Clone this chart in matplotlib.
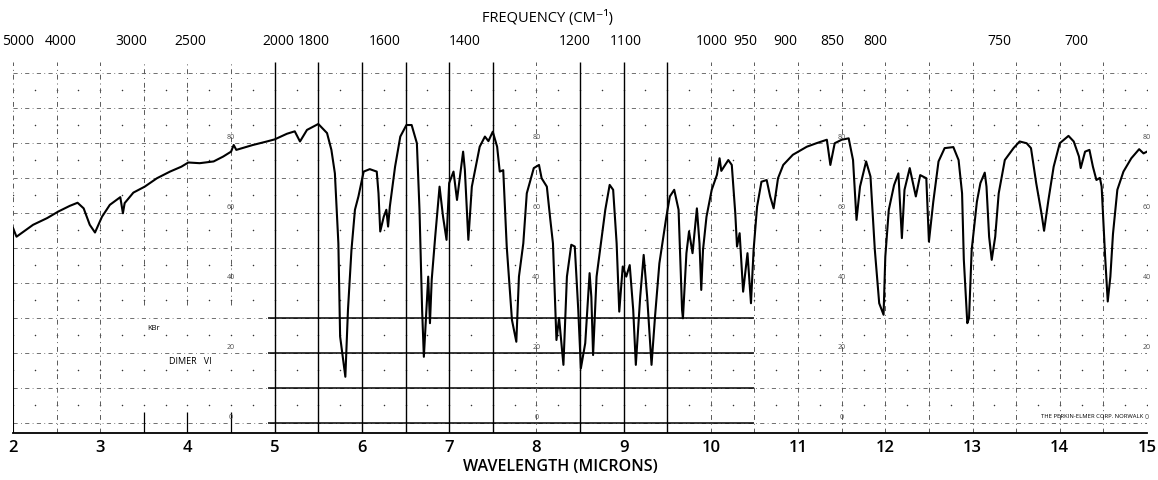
import matplotlib
matplotlib.use("Agg")
import matplotlib.pyplot as plt
import numpy as np

# traced spectrum: wavelength (microns) vs % transmittance
wavelength = [2.00, 2.04, 2.23, 2.39, 2.52, 2.65, 2.74, 2.81, 2.88, 2.94, 3.02, 3.11, 3.23, 3.26, 3.28,
              3.38, 3.51, 3.65, 3.80, 3.93, 4.01, 4.14, 4.30, 4.41, 4.50, 4.53, 4.56, 4.75, 4.91, 5.00,
              5.14, 5.23, 5.29, 5.37, 5.50, 5.60, 5.65, 5.69, 5.73, 5.75, 5.81, 5.84, 5.88, 5.92, 5.96,
              6.02, 6.09, 6.17, 6.19, 6.21, 6.25, 6.28, 6.30, 6.32, 6.38, 6.44, 6.51, 6.57, 6.63, 6.66,
              6.69, 6.71, 6.74, 6.76, 6.78, 6.80, 6.84, 6.89, 6.93, 6.97, 7.00, 7.05, 7.09, 7.16, 7.18,
              7.22, 7.26, 7.35, 7.41, 7.45, 7.50, 7.55, 7.58, 7.62, 7.66, 7.72, 7.77, 7.80, 7.85, 7.89,
              7.97, 8.03, 8.06, 8.12, 8.16, 8.19, 8.23, 8.26, 8.31, 8.35, 8.40, 8.44, 8.48, 8.51, 8.56,
              8.61, 8.63, 8.65, 8.69, 8.73, 8.79, 8.84, 8.88, 8.92, 8.95, 8.99, 9.03, 9.07, 9.11, 9.14,
              9.19, 9.23, 9.27, 9.32, 9.36, 9.41, 9.49, 9.53, 9.58, 9.63, 9.67, 9.68, 9.72, 9.75, 9.79,
              9.84, 9.87, 9.89, 9.91, 9.95, 10.01, 10.07, 10.10, 10.12, 10.20, 10.24, 10.28, 10.30, 10.33,
              10.37, 10.42, 10.46, 10.49, 10.53, 10.58, 10.64, 10.68, 10.72, 10.77, 10.83, 10.94, 11.10,
              11.21, 11.33, 11.37, 11.42, 11.50, 11.58, 11.63, 11.67, 11.71, 11.78, 11.83, 11.88, 11.93,
              11.98, 12.00, 12.04, 12.10, 12.15, 12.19, 12.22, 12.28, 12.35, 12.40, 12.47, 12.50, 12.55,
              12.61, 12.68, 12.78, 12.84, 12.88, 12.90, 12.94, 12.96, 12.99, 13.05, 13.09, 13.14, 13.16,
              13.19, 13.22, 13.26, 13.30, 13.37, 13.47, 13.54, 13.62, 13.67, 13.73, 13.79, 13.82, 13.87,
              13.93, 14.00, 14.10, 14.16, 14.22, 14.24, 14.29, 14.34, 14.38, 14.42, 14.46, 14.48, 14.52,
              14.55, 14.58, 14.61, 14.66, 14.73, 14.82, 14.91, 14.96, 15.00]
transmittance = [55.7, 53.2, 56.6, 58.5, 60.4, 62.0, 62.9, 61.3, 56.6, 54.4, 58.9, 62.3, 64.5, 59.9, 62.8,
                 65.8, 67.5, 69.9, 71.8, 73.2, 74.4, 74.2, 74.7, 76.1, 77.5, 79.4, 78.0, 79.4, 80.4, 81.0,
                 82.6, 83.3, 80.4, 83.7, 85.4, 82.8, 78.0, 71.3, 51.3, 24.7, 13.2, 32.3, 49.4, 60.9, 64.7,
                 71.8, 72.5, 71.8, 65.6, 54.7, 58.9, 60.9, 56.1, 61.8, 73.2, 81.8, 85.1, 85.1, 79.9, 60.9,
                 32.3, 18.9, 32.3, 41.8, 28.5, 40.9, 53.2, 67.5, 58.9, 52.3, 68.5, 71.8, 63.7, 77.5, 72.3,
                 52.3, 67.5, 78.9, 81.8, 80.5, 83.2, 78.9, 71.8, 72.2, 50.4, 29.4, 23.2, 41.8, 51.3, 65.6,
                 72.8, 73.7, 69.9, 67.5, 58.0, 51.3, 23.7, 30.0, 16.6, 41.8, 50.9, 50.4, 32.3, 15.6, 22.8,
                 42.8, 36.0, 19.4, 41.8, 49.4, 60.9, 68.0, 66.6, 51.3, 31.8, 44.7, 41.8, 45.1, 32.3, 16.6,
                 36.0, 48.0, 36.0, 16.6, 30.4, 45.6, 58.9, 64.7, 66.6, 60.9, 32.3, 29.9, 48.5, 54.7, 48.5,
                 61.3, 51.3, 38.0, 49.4, 58.9, 66.6, 70.9, 75.6, 72.0, 75.1, 73.7, 59.9, 50.4, 54.2,
                 37.5, 48.5, 34.2, 49.4, 61.8, 68.9, 69.4, 64.7, 61.3, 69.9, 73.7, 76.6, 78.9,
                 79.9, 80.9, 73.7, 79.9, 80.9, 81.3, 75.1, 58.0, 67.5, 74.7, 70.4, 49.4, 34.2,
                 30.9, 47.5, 60.9, 67.9, 71.3, 52.8, 66.6, 72.8, 64.7, 70.8, 69.9, 51.8, 63.2,
                 74.7, 78.5, 78.8, 75.1, 65.6, 46.7, 28.5, 30.0, 49.4, 63.2, 68.5, 71.5, 67.5,
                 53.2, 46.6, 53.2, 65.6, 75.1, 78.5, 80.4, 79.9, 78.5, 68.5, 59.9, 54.9, 63.7,
                 73.2, 79.9, 82.0, 80.4, 76.1, 72.8, 77.5, 78.0, 73.2, 69.4, 70.0, 67.5, 47.5,
                 34.7, 41.8, 54.0, 66.6, 71.8, 75.6, 78.2, 77.0, 77.5]

micron_ticks = list(range(2, 16))
freq_labels = ["5000", "4000", "3000", "2500", "2000", "1800", "1600", "1400", "1200", "1100",
               "1000", "950", "900", "850", "800", "750", "700"]
freq_label_pos = [2.06, 2.55, 3.36, 4.03, 5.04, 5.45, 6.26, 7.18, 8.44, 9.02,
                  10.01, 10.40, 10.85, 11.39, 11.89, 13.31, 14.19]
pct_label_cols = [4.5, 8.0, 11.5, 15.0]
pct_labels = [0, 20, 40, 60, 80]

plt.rcParams['font.family'] = ['Open Sans', 'DejaVu Sans']

fig = plt.figure(figsize=(11.58, 4.8), dpi=100)
ax = fig.add_axes([13/1158, 47/480, 1134/1158, 371/480])
ymin, ymax = -2.86, 103.1
ax.set_xlim(2, 15)
ax.set_ylim(ymin, ymax)

dashdot = (0, (5, 4, 1, 4))
grid_c = '0.35'

# chart paper grid
for t in range(0, 101, 10):
    ax.hlines(t, 2, 15, colors=grid_c, linestyles=[dashdot], lw=0.6)
ax.hlines([0, 10, 20, 30], 4.92, 10.5, colors='k', lw=1.1)

solid_cols = [5.0, 5.5, 6.0, 6.5, 7.0, 7.5, 8.5, 9.0, 9.5]
for x in np.arange(2.0, 15.01, 0.5):
    if x in solid_cols:
        ax.vlines(x, ymin, ymax, colors='k', lw=1.0)
    elif x in (3.5, 4.0, 4.5):
        ax.vlines(x, 33.7, ymax, colors=grid_c, linestyles=[dashdot], lw=0.7)
        ax.vlines(x, ymin, 3, colors='k', lw=0.9)
    else:
        ax.vlines(x, ymin, ymax, colors=grid_c, linestyles=[dashdot], lw=0.7)

gx, gy = np.meshgrid(np.arange(2.0, 15.01, 0.25), np.arange(5, 100, 10))
ax.scatter(gx.ravel(), gy.ravel(), s=1.2, color='0.2', lw=0)

for col in pct_label_cols:
    for p in pct_labels:
        ax.text(col, p + 1.5, str(p), fontsize=5, color='0.3', ha='center', va='center')

# spectrum trace (pen rises from the baseline at the start)
ax.vlines(wavelength[0], ymin, transmittance[0], colors='k', lw=1.5)
ax.plot(wavelength, transmittance, color='k', lw=1.5, solid_joinstyle='round')

for s in ['top', 'left', 'right']:
    ax.spines[s].set_visible(False)
ax.spines['bottom'].set_linewidth(1.3)
ax.set_yticks([])
ax.set_xticks(micron_ticks)
ax.set_xticklabels([str(m) for m in micron_ticks], fontsize=12, fontweight='semibold')
ax.tick_params(axis='x', length=0, pad=5)

fig.text(560/1158, 1 - 467/480, "WAVELENGTH (MICRONS)", ha='center', va='center',
         fontsize=11.5, fontweight='semibold')

xtr = ax.get_xaxis_transform()
for lab, pos in zip(freq_labels, freq_label_pos):
    ax.text(pos, 1.054, lab, transform=xtr, ha='center', va='center', fontsize=10)
fig.text(547/1158, 1 - 18/480, "FREQUENCY (CM⁻¹)", ha='center', va='center', fontsize=10.5)

ax.text(2.0 + (154 - 13)/87.23, 27, "KBr", fontsize=5.5, ha='center', va='center')
ax.text(2.0 + (190 - 13)/87.23, 17.5, "DIMER   VI", fontsize=6.5, ha='center', va='center')
ax.text(14.96, 1.0, "THE PERKIN-ELMER CORP. NORWALK", fontsize=4.2, ha='right', va='bottom')

fig.savefig("out.png", dpi=100)
